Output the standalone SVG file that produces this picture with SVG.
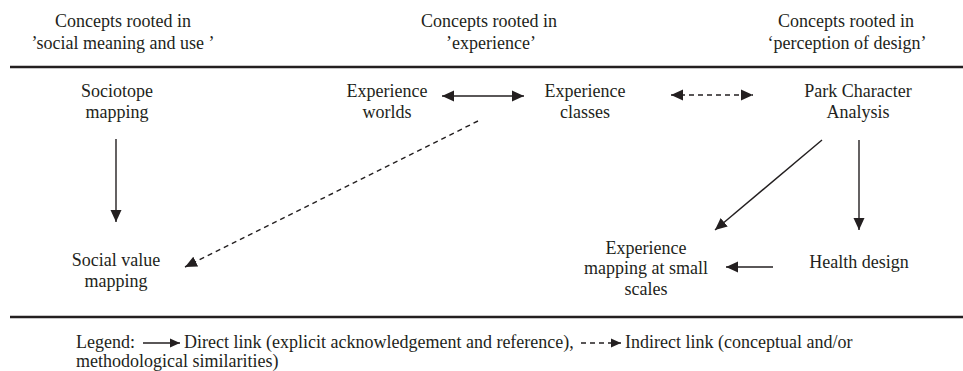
<svg xmlns="http://www.w3.org/2000/svg" width="963" height="371" viewBox="0 0 963 371">
<style>
text { font-family: "Liberation Serif", "Times New Roman", serif; font-size: 18px; fill: #231f20; text-anchor: middle; }
.legend { font-size: 18px; text-anchor: start; }
.rule { stroke: #231f20; stroke-width: 2.6; }
.link { stroke: #231f20; stroke-width: 1.4; fill: none; }
.dash { stroke-dasharray: 5 4; }
</style>
<defs>
<marker id="ah" markerUnits="userSpaceOnUse" markerWidth="13" markerHeight="12" refX="12" refY="6" orient="auto-start-reverse">
<path d="M0,0.5 L12,6 L0,11.5 z" fill="#231f20"/>
</marker>
<marker id="ahs" markerUnits="userSpaceOnUse" markerWidth="11" markerHeight="10" refX="10" refY="5" orient="auto">
<path d="M0,0.5 L10,5 L0,9.5 z" fill="#231f20"/>
</marker>
</defs>
<rect width="963" height="371" fill="#ffffff"/>

<g id="headers">
<text x="123" y="27">Concepts rooted in</text>
<text x="123" y="49">’social meaning and use ’</text>
<text x="489" y="27">Concepts rooted in</text>
<text x="491" y="49">’experience’</text>
<text x="846" y="27">Concepts rooted in</text>
<text x="847" y="49">‘perception of design’</text>
</g>

<line class="rule" x1="10" y1="67" x2="963" y2="67"/>
<line class="rule" x1="10" y1="317" x2="963" y2="317"/>

<g id="sociotope"><text x="117" y="97">Sociotope</text><text x="117" y="118">mapping</text></g>
<g id="worlds"><text x="387" y="97">Experience</text><text x="387" y="118">worlds</text></g>
<g id="classes"><text x="585" y="97">Experience</text><text x="585" y="118">classes</text></g>
<g id="park"><text x="858" y="97">Park Character</text><text x="858" y="118">Analysis</text></g>
<g id="socialvalue"><text x="116" y="266">Social value</text><text x="116" y="287">mapping</text></g>
<g id="expmapping"><text x="646" y="254">Experience</text><text x="646" y="274">mapping at small</text><text x="646" y="295">scales</text></g>
<g id="health"><text x="859" y="268">Health design</text></g>

<g id="connectors">
<line class="link" x1="116" y1="139" x2="116" y2="222" marker-end="url(#ah)"/>
<line class="link" x1="442" y1="96" x2="524" y2="96" marker-start="url(#ah)" marker-end="url(#ah)"/>
<line class="link dash" x1="671" y1="95" x2="753" y2="95" marker-start="url(#ah)" marker-end="url(#ah)"/>
<line class="link dash" x1="478" y1="121" x2="185" y2="267" marker-end="url(#ah)"/>
<line class="link" x1="822" y1="140" x2="715" y2="230" marker-end="url(#ah)"/>
<line class="link" x1="859" y1="140" x2="859" y2="230" marker-end="url(#ah)"/>
<line class="link" x1="773" y1="267" x2="726" y2="267" marker-end="url(#ah)"/>
</g>

<g id="legend">
<text class="legend" x="76" y="348">Legend:</text>
<line class="link" x1="143" y1="343" x2="180" y2="343" marker-end="url(#ahs)"/>
<text class="legend" x="184" y="348">Direct link (explicit acknowledgement and reference),</text>
<line class="link dash" x1="581" y1="343" x2="621" y2="343" stroke-dasharray="4 3" marker-end="url(#ahs)"/>
<text class="legend" x="625" y="348">Indirect link (conceptual and/or</text>
<text class="legend" x="76" y="367">methodological similarities)</text>
</g>
</svg>
